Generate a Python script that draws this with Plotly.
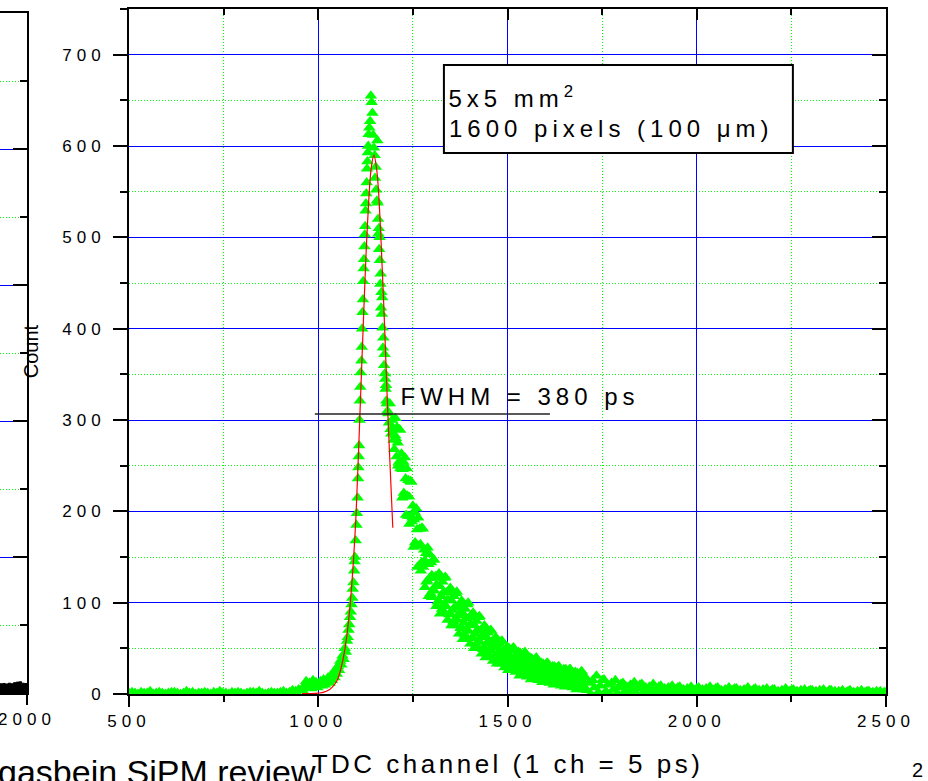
import plotly.graph_objects as go

# ---------------- data ----------------
# baseline channels 500..948 (step 8)
base_x = list(range(500, 956, 8))
base_y = [1, 2, 1, 0, 2, 1, 1, 3, 0, 1,
          2, 1, 0, 1, 2, 2, 1, 0, 1, 3,
          1, 2, 0, 1, 1, 2, 1, 0, 2, 1,
          3, 1, 1, 0, 2, 1, 2, 1, 0, 1,
          2, 2, 1, 3, 1, 0, 1, 2, 1, 1,
          2, 3, 1, 2, 4, 3, 5]

# rising edge up to the peak
rise_x = [958, 963, 968, 972, 977, 982, 986, 990, 994, 998,
          1002, 1006, 1010, 1014, 1018, 1022, 1026, 1030, 1033, 1036,
          1040, 1043, 1046, 1049, 1052, 1055, 1058, 1061, 1064, 1067,
          1070, 1073, 1076, 1078, 1080, 1082, 1084, 1086, 1088, 1090,
          1091, 1093, 1095, 1096, 1097, 1099, 1101, 1102, 1104, 1105,
          1106, 1107, 1108, 1109, 1110, 1111, 1112, 1114, 1115, 1116,
          1117, 1118, 1119, 1120, 1121, 1122, 1123, 1124, 1125, 1126,
          1127, 1128, 1129, 1130, 1131, 1132, 1133, 1135, 1137, 1139,
          1141]
rise_y = [4, 9, 14, 8, 12, 6, 15, 9, 13, 7,
          11, 14, 9, 16, 10, 13, 18, 12, 20, 15,
          22, 18, 27, 22, 30, 26, 36, 32, 42, 38,
          50, 46, 58, 62, 70, 76, 84, 90, 98, 105,
          115, 122, 135, 145, 150, 168, 185, 198, 215, 236,
          248, 260, 272, 300, 321, 336, 352, 365, 380, 400,
          418, 432, 452, 466, 476, 490, 503, 512, 529, 537,
          548, 560, 575, 583, 593, 600, 613, 620, 627, 655,
          648]

# falling edge after the peak
peak_x = [1143, 1145, 1147, 1149, 1150, 1152, 1153, 1155, 1156, 1157,
          1158, 1159, 1160, 1161, 1162, 1163, 1164, 1165, 1166, 1167,
          1168, 1169, 1170, 1171, 1172, 1174, 1175, 1176, 1177, 1178,
          1179, 1180, 1181, 1183, 1185, 1187, 1189, 1191, 1193, 1195,
          1197, 1199, 1201, 1203]
peak_y = [636, 612, 598, 590, 565, 577, 552, 540, 606, 538,
          520, 504, 510, 487, 500, 475, 449, 460, 423, 440,
          416, 434, 401, 379, 390, 360, 372, 351, 345, 334,
          338, 321, 318, 310, 307, 297, 318, 290, 285, 300,
          291, 278, 268, 283]

# tail 1204..1702 (every 3rd channel)
tail_x = list(range(1204, 1703, 3))
tail_y = [302, 260, 275, 254, 289, 250, 215, 254, 218, 236,
          247, 195, 216, 195, 232, 193, 161, 199, 164, 180,
          193, 141, 164, 144, 181, 145, 117, 154, 124, 142,
          153, 110, 130, 114, 147, 118, 96, 127, 102, 118,
          129, 93, 111, 98, 128, 102, 81, 111, 88, 103,
          113, 79, 95, 82, 112, 86, 66, 96, 73, 89,
          99, 65, 83, 70, 100, 75, 55, 84, 62, 76,
          86, 54, 70, 58, 85, 62, 44, 70, 51, 64,
          72, 44, 58, 48, 70, 51, 36, 58, 41, 53,
          59, 36, 48, 39, 58, 42, 29, 48, 34, 44,
          50, 30, 40, 32, 51, 36, 24, 42, 28, 38,
          45, 23, 35, 27, 46, 31, 19, 37, 24, 33,
          39, 20, 30, 23, 40, 26, 15, 31, 19, 28,
          33, 16, 25, 19, 34, 22, 12, 27, 16, 24,
          30, 13, 22, 16, 30, 19, 9, 23, 14, 21,
          27, 11, 19, 14, 27, 16, 7, 21, 10, 18,
          23, 7, 16, 11, 25, 14, 5]

# tail, the channels in between 1205..1700
tail2_x = list(range(1205, 1701, 3))
tail2_y = [280, 292, 250, 290, 247, 263, 246, 220, 259, 196,
           217, 234, 186, 233, 189, 206, 191, 166, 203, 139,
           162, 181, 135, 182, 139, 158, 145, 123, 160, 107,
           127, 144, 106, 147, 113, 129, 119, 101, 132, 88,
           107, 123, 89, 127, 96, 111, 103, 87, 116, 75,
           92, 107, 75, 110, 81, 96, 88, 72, 102, 60,
           78, 93, 62, 98, 69, 84, 76, 61, 89, 50,
           66, 80, 50, 84, 57, 70, 63, 49, 75, 40,
           55, 67, 41, 69, 47, 58, 52, 41, 62, 33,
           45, 55, 33, 58, 38, 48, 43, 33, 52, 26,
           37, 48, 27, 50, 32, 42, 37, 27, 46, 20,
           32, 41, 22, 44, 27, 36, 32, 23, 40, 16,
           27, 36, 18, 38, 22, 31, 27, 18, 34, 13,
           22, 31, 14, 34, 19, 27, 23, 16, 30, 10,
           19, 27, 12, 30, 16, 23, 20, 12, 27, 8,
           17, 24, 9, 27, 13, 20, 17, 10, 24, 5,
           13, 21, 7, 24, 11, 18]

# far tail 1705..2500 (step 5)
far_x = list(range(1705, 2501, 5))
far_y = [19, 4, 12, 0, 15, 7, 20, 2, 9, 15,
         16, 3, 10, 0, 12, 5, 15, 1, 7, 11,
         12, 3, 8, 0, 10, 4, 13, 1, 6, 10,
         11, 2, 7, 0, 8, 4, 11, 1, 5, 8,
         9, 2, 6, 0, 7, 3, 9, 1, 5, 7,
         8, 2, 5, 0, 6, 3, 8, 1, 4, 6,
         7, 2, 5, 0, 6, 3, 8, 1, 4, 6,
         7, 1, 4, 0, 5, 3, 7, 1, 4, 6,
         6, 1, 4, 0, 5, 2, 7, 1, 3, 5,
         6, 1, 4, 0, 5, 2, 6, 1, 3, 5,
         5, 1, 3, 0, 4, 2, 6, 1, 3, 4,
         5, 1, 3, 0, 4, 2, 5, 0, 3, 4,
         4, 1, 3, 0, 4, 2, 5, 0, 2, 4,
         4, 1, 3, 0, 3, 1, 4, 0, 2, 3,
         4, 1, 2, 0, 3, 1, 4, 0, 2, 3,
         3, 1, 2, 0, 3, 1, 3, 0, 2, 2]

# red Gaussian fit curve
fit_x = [957, 980, 1000, 1015, 1030, 1040, 1050, 1060, 1070, 1080, 1090,
         1100, 1110, 1120, 1130, 1140, 1147, 1155, 1165, 1175, 1185, 1197]
fit_y = [0.5, 0.5, 1, 2, 5, 9, 15, 28, 48, 80, 128,
         198, 305, 416, 514, 576, 590, 572, 505, 405, 295, 182]

# neighbouring (cut-off) chart at the left edge
left_x = [1900, 1910, 1920, 1930, 1940, 1950, 1960, 1970, 1980, 1990, 2000]
left_y = [34, 35, 33, 36, 34, 38, 40, 41, 36, 35, 34]

x_all = base_x + rise_x + peak_x + tail_x + tail2_x + far_x
y_all = base_y + rise_y + peak_y + tail_y + tail2_y + far_y

# ---------------- figure ----------------
W, H = 928, 781
FONT = "Arial, 'Liberation Sans', sans-serif"
BLUE = "#0000FF"
GREEN = "#00FF00"
DOTS = "1px,2px"

fig = go.Figure()
fig.add_trace(go.Scatter(
    x=x_all, y=y_all, mode="markers",
    marker=dict(symbol="triangle-up", size=11, color=GREEN, line=dict(width=0)),
    showlegend=False, hoverinfo="skip"))
fig.add_trace(go.Scatter(
    x=fit_x, y=fit_y, mode="lines",
    line=dict(color="#FF0000", width=1.2, shape="spline"),
    showlegend=False, hoverinfo="skip"))
# carrier trace for mirrored (inward-tick) top/right axes
fig.add_trace(go.Scatter(x=[None], y=[None], xaxis="x2", yaxis="y2",
                         showlegend=False, hoverinfo="skip"))
# left cut-off chart
fig.add_trace(go.Scatter(
    x=left_x, y=left_y, xaxis="x3", yaxis="y3", mode="lines",
    line=dict(color="black", width=1, shape="hv"), fill="tozeroy",
    fillcolor="black", showlegend=False, hoverinfo="skip"))

tickfont = dict(family=FONT, size=17, color="black")

xdom = [129 / W, 886 / W]
ydom = [1 - 694 / H, 1 - 9 / H]

fig.update_layout(
    template="none",
    width=W, height=H,
    margin=dict(l=0, r=0, t=0, b=0, pad=0),
    paper_bgcolor="white", plot_bgcolor="white",
    font=dict(family=FONT, color="black"),
    xaxis=dict(
        domain=xdom, range=[500, 2500], anchor="y", automargin=False,
        tickmode="linear", tick0=500, dtick=500,
        ticks="outside", ticklen=11, tickwidth=2, tickcolor="black",
        showline=True, linecolor="black", linewidth=2,
        showgrid=True, gridcolor=BLUE, gridwidth=1, zeroline=False,
        tickfont=tickfont,
        minor=dict(dtick=250, tick0=500, ticks="outside", ticklen=6, tickwidth=2,
                   tickcolor="black", showgrid=True, gridcolor=GREEN,
                   griddash=DOTS, gridwidth=1),
        title=dict(text="TDC channel (1 ch = 5 ps)",
                   font=dict(family=FONT, size=26, color="black"), standoff=24),
    ),
    yaxis=dict(
        domain=ydom, range=[0, 750], anchor="x", automargin=False,
        tickmode="linear", tick0=0, dtick=100,
        ticks="outside", ticklen=14, tickwidth=2, tickcolor="black",
        showline=True, linecolor="black", linewidth=2,
        showgrid=True, gridcolor=BLUE, gridwidth=1, zeroline=False,
        tickfont=tickfont, ticklabelstandoff=4,
        minor=dict(dtick=50, tick0=0, ticks="outside", ticklen=7, tickwidth=2,
                   tickcolor="black", showgrid=True, gridcolor=GREEN,
                   griddash=DOTS, gridwidth=1),
        title=dict(text="Count", font=dict(family=FONT, size=20, color="black"),
                   standoff=33),
    ),
    xaxis2=dict(
        overlaying="x", side="top", anchor="y", range=[500, 2500], automargin=False,
        tickmode="linear", tick0=500, dtick=500,
        ticks="inside", ticklen=11, tickwidth=2, tickcolor="black",
        showticklabels=False, showgrid=False, zeroline=False,
        showline=True, linecolor="black", linewidth=2,
        minor=dict(dtick=250, tick0=500, ticks="inside", ticklen=6, tickwidth=2,
                   tickcolor="black", showgrid=False),
    ),
    yaxis2=dict(
        overlaying="y", side="right", anchor="x", range=[0, 750], automargin=False,
        tickmode="linear", tick0=0, dtick=100,
        ticks="inside", ticklen=14, tickwidth=2, tickcolor="black",
        showticklabels=False, showgrid=False, zeroline=False,
        showline=True, linecolor="black", linewidth=2,
        minor=dict(dtick=50, tick0=0, ticks="inside", ticklen=7, tickwidth=2,
                   tickcolor="black", showgrid=False),
    ),
    xaxis3=dict(
        domain=[0, 27 / W], anchor="y3", range=[1900, 2000], automargin=False,
        tickmode="linear", tick0=0, dtick=500,
        ticks="outside", ticklen=10, tickwidth=2, tickcolor="black",
        showline=True, mirror=True, linecolor="black", linewidth=2,
        showgrid=False, zeroline=False, tickfont=tickfont,
    ),
    yaxis3=dict(
        domain=[1 - 693 / H, 1 - 13 / H], anchor="x3", side="right", automargin=False,
        range=[0, 2500], tickmode="linear", tick0=0, dtick=500,
        ticks="inside", ticklen=14, tickwidth=2, tickcolor="black",
        showticklabels=False, showline=True, linecolor="black", linewidth=2,
        showgrid=True, gridcolor=BLUE, gridwidth=1, zeroline=False,
        minor=dict(dtick=250, tick0=0, ticks="inside", ticklen=7, tickwidth=2,
                   tickcolor="black", showgrid=True, gridcolor=GREEN,
                   griddash=DOTS, gridwidth=1),
    ),
    shapes=[
        dict(type="rect", xref="x", yref="y", x0=1332, x1=2254, y0=592.3, y1=688.7,
             line=dict(color="black", width=2), fillcolor="white", layer="above"),
        dict(type="line", xref="x", yref="y", x0=991, x1=1612, y0=306.6, y1=306.6,
             line=dict(color="#222222", width=1.5), layer="above"),
    ],
    annotations=[
        dict(text="5x5 mm<sup>2</sup>", xref="x", yref="y", x=1340, y=654,
             xanchor="left", yanchor="middle", showarrow=False, xshift=17.5,
             font=dict(family=FONT, size=24, color="black")),
        dict(text="1600 pixels (100 \u03bcm)", xref="x", yref="y", x=1340, y=619,
             xanchor="left", yanchor="middle", showarrow=False, xshift=50,
             font=dict(family=FONT, size=24, color="black")),
        dict(text="FWHM = 380 ps", xref="x", yref="y", x=1211, y=326,
             xanchor="left", yanchor="middle", showarrow=False, xshift=32.5,
             font=dict(family=FONT, size=24, color="black")),
        dict(text="gasbein SiPM review", xref="paper", yref="paper",
             x=318 / W, y=1 - 772 / H, xanchor="right", yanchor="middle",
             showarrow=False, font=dict(family=FONT, size=34, color="black")),
        dict(text="2", xref="paper", yref="paper",
             x=917 / W, y=1 - 770 / H, xanchor="center", yanchor="middle",
             showarrow=False, font=dict(family=FONT, size=20, color="black")),
    ],
)

post = """
var st = document.createElement('style');
st.textContent = '.xtick text, .ytick text, .x3tick text {letter-spacing: 5px;}' +
  '.annotation[data-index="0"] text, .annotation[data-index="1"] text, .annotation[data-index="2"] text {letter-spacing: 5px;}' +
  '.xtitle {letter-spacing: 3.5px;}';
document.head.appendChild(st);
"""

fig.write_html("out.html", post_script=post)
